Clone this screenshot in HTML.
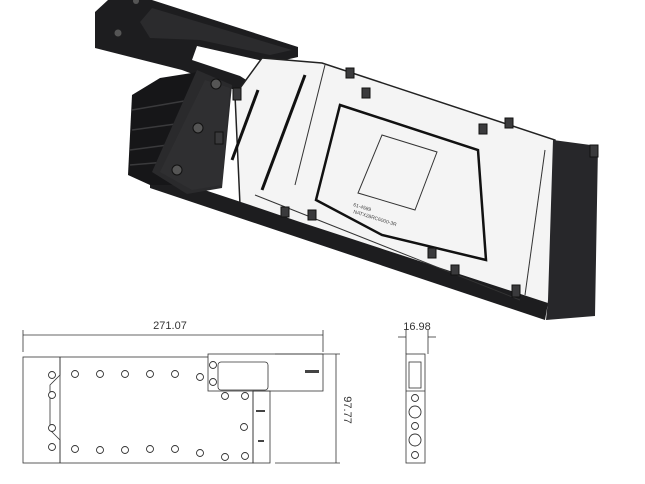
<!DOCTYPE html>
<html><head><style>html,body{margin:0;padding:0;background:#fff}svg{display:block}</style></head>
<body>
<svg width="645" height="484" viewBox="0 0 645 484" xmlns="http://www.w3.org/2000/svg" font-family="Liberation Sans, sans-serif">
<!-- top bracket -->
<polygon points="95,12 108,0 152,0 298,47 298,57 272,63 197,46 192,60 240,76 262,90 240,92 182,70 95,48" fill="#1d1d1f"/>
<polygon points="140,22 152,8 292,50 270,55 200,40 150,38" fill="#2b2b2d"/>
<circle cx="118" cy="33" r="3.5" fill="#555"/>
<circle cx="136" cy="1" r="3" fill="#555"/>
<!-- silver plate -->
<polygon points="262,58 322,63 555,140 552,305 520,305 240,205 235,95" fill="#f4f4f4" stroke="#222" stroke-width="1.5"/>
<!-- black bottom strip -->
<polygon points="150,172 150,188 545,320 548,303 300,222 250,205" fill="#1d1d1f"/>
<!-- right plate -->
<polygon points="553,140 598,146 595,316 546,320 548,300" fill="#27272a"/>
<!-- left fins -->
<polygon points="132,95 160,78 198,72 190,185 150,185 128,175" fill="#161618"/>
<g stroke="#3a3a3c" stroke-width="1.5">
<line x1="132" y1="110" x2="190" y2="100"/><line x1="132" y1="130" x2="190" y2="122"/><line x1="130" y1="150" x2="190" y2="142"/><line x1="130" y1="165" x2="190" y2="160"/>
</g>
<!-- left plate -->
<polygon points="197,70 232,85 222,188 187,194 152,172" fill="#2a2a2c"/>
<polygon points="205,80 230,88 222,185 192,190 160,172" fill="#2f2f31"/>
<circle cx="216" cy="84" r="5" fill="#555" stroke="#111"/>
<circle cx="198" cy="128" r="5" fill="#555" stroke="#111"/>
<circle cx="177" cy="170" r="5" fill="#555" stroke="#111"/>
<!-- plate inner lines -->
<g stroke="#111" stroke-width="3" fill="none">
<line x1="305" y1="75" x2="262" y2="190"/>
<line x1="258" y1="90" x2="232" y2="160"/>
</g>
<g stroke="#333" stroke-width="1" fill="none">
<polygon points="382,135 437,152 415,210 358,193"/>
<line x1="325" y1="65" x2="295" y2="185"/>
<line x1="545" y1="150" x2="525" y2="295"/>
<line x1="255" y1="195" x2="520" y2="300"/>
</g>
<path d="M340,105 L478,150 L486,260 L382,235 L316,200 Z" fill="none" stroke="#111" stroke-width="2.5"/>
<text x="353" y="206" font-size="5" fill="#444" transform="rotate(17 353 206)">61-4589</text>
<text x="353" y="213" font-size="5" fill="#444" transform="rotate(17 353 213)">NATX28RC6000-3R</text>
<!-- standoffs -->
<g fill="#3a3a3c" stroke="#111">
<rect x="233" y="88" width="8" height="12"/><rect x="215" y="132" width="8" height="12"/>
<rect x="346" y="68" width="8" height="10"/><rect x="362" y="88" width="8" height="10"/>
<rect x="479" y="124" width="8" height="10"/><rect x="505" y="118" width="8" height="10"/>
<rect x="281" y="207" width="8" height="10"/><rect x="308" y="210" width="8" height="10"/>
<rect x="428" y="248" width="8" height="10"/><rect x="451" y="265" width="8" height="10"/>
<rect x="590" y="145" width="8" height="12"/><rect x="512" y="285" width="8" height="12"/>
</g>
<!-- ===== drawing ===== -->
<g stroke="#333" stroke-width="0.8" fill="none">
<line x1="23" y1="335" x2="323" y2="335"/>
<line x1="23" y1="330" x2="23" y2="352"/><line x1="323" y1="330" x2="323" y2="352"/>
<rect x="23" y="357" width="230" height="106"/>
<line x1="60" y1="357" x2="60" y2="463"/>
<polyline points="60,357 60,375 50,385 50,430 60,440 60,463"/>
<rect x="208" y="354" width="115" height="37" fill="#fff"/>
<rect x="218" y="362" width="50" height="28" rx="3"/>
<rect x="253" y="391" width="17" height="72"/>
<line x1="275" y1="354" x2="340" y2="354"/><line x1="275" y1="463" x2="340" y2="463"/>
<line x1="336" y1="354" x2="336" y2="463"/>
<line x1="406" y1="330" x2="406" y2="354"/><line x1="428" y1="330" x2="428" y2="354"/>
<line x1="398" y1="337" x2="406" y2="337"/><line x1="428" y1="337" x2="436" y2="337"/>
<rect x="406" y="354" width="19" height="109"/>
<rect x="409" y="362" width="12" height="26"/>
<line x1="406" y1="391" x2="425" y2="391"/>
</g>
<g fill="#fff" stroke="#333" stroke-width="0.9">
<circle cx="52" cy="375" r="3.5"/><circle cx="52" cy="395" r="3.5"/><circle cx="52" cy="428" r="3.5"/><circle cx="52" cy="447" r="3.5"/>
<circle cx="75" cy="374" r="3.5"/><circle cx="100" cy="374" r="3.5"/><circle cx="125" cy="374" r="3.5"/><circle cx="150" cy="374" r="3.5"/><circle cx="175" cy="374" r="3.5"/><circle cx="200" cy="377" r="3.5"/>
<circle cx="213" cy="365" r="3.5"/><circle cx="213" cy="382" r="3.5"/>
<circle cx="225" cy="396" r="3.5"/><circle cx="245" cy="396" r="3.5"/><circle cx="244" cy="427" r="3.5"/>
<circle cx="75" cy="449" r="3.5"/><circle cx="100" cy="450" r="3.5"/><circle cx="125" cy="450" r="3.5"/><circle cx="150" cy="449" r="3.5"/><circle cx="175" cy="449" r="3.5"/><circle cx="200" cy="453" r="3.5"/><circle cx="225" cy="457" r="3.5"/><circle cx="245" cy="456" r="3.5"/>
<circle cx="415" cy="398" r="3.5"/><circle cx="415" cy="412" r="6"/><circle cx="415" cy="426" r="3.5"/><circle cx="415" cy="440" r="6"/><circle cx="415" cy="455" r="3.5"/>
</g>
<g fill="#444">
<rect x="305" y="370" width="14" height="3"/>
<rect x="256" y="410" width="9" height="2"/>
<rect x="258" y="440" width="6" height="2"/>
</g>
<text x="170" y="329" font-size="11" fill="#333" text-anchor="middle">271.07</text>
<text x="417" y="330" font-size="11" fill="#333" text-anchor="middle">16.98</text>
<text x="0" y="0" font-size="11" fill="#333" text-anchor="middle" transform="translate(344,410) rotate(90)">97.77</text>
</svg>
</body></html>
